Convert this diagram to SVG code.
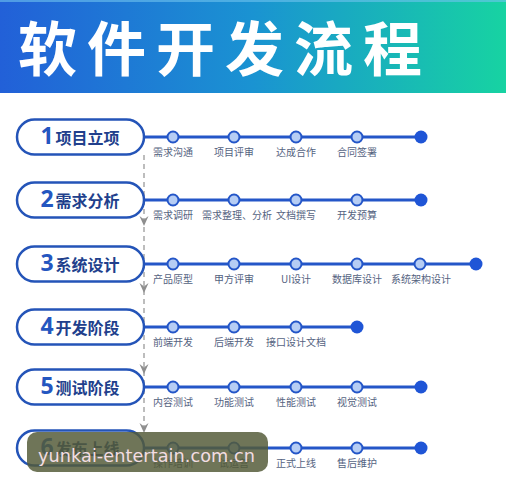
<svg xmlns="http://www.w3.org/2000/svg" width="506" height="500" viewBox="0 0 506 500">
<defs>
<linearGradient id="hdr" x1="0" y1="0" x2="1" y2="0">
<stop offset="0" stop-color="#2260d8"/>
<stop offset="0.5" stop-color="#1a93d2"/>
<stop offset="1" stop-color="#17d3a2"/>
</linearGradient>
<path id="arr" d="M-4.5,-10 L0,0 L4.5,-10 L0,-6.5 Z"/>
</defs>
<style>
.pill{fill:#fff;stroke:#2454b8;stroke-width:2.5}
.num{font-family:"Noto Sans","Liberation Sans",sans-serif;font-weight:bold;font-size:23px;fill:#2456c0}
.ttl{font-family:"Noto Sans CJK SC",sans-serif;font-weight:bold;font-size:16px;fill:#213f8c}
.ln{stroke:#2456c8;stroke-width:3;fill:none}
.dot{fill:#b6cdf4;stroke:#2456c8;stroke-width:2}
.end{fill:#1f55d6}
.lbl{font-family:"Noto Sans CJK SC",sans-serif;font-size:10px;fill:#55637f;text-anchor:middle}
.dash{stroke:#9a9a9a;stroke-width:1.3;stroke-dasharray:5 4;fill:none}
.ah{fill:#8e8e8e}
</style>
<rect width="506" height="500" fill="#fff"/>
<g id="header">
<rect x="0" y="0" width="506" height="93" fill="url(#hdr)"/>
<rect x="0" y="0" width="506" height="2" fill="#6fc3ee" opacity="0.6"/>
<text x="18" y="71" font-family="Noto Sans CJK SC,sans-serif" font-weight="bold" font-size="59" letter-spacing="10" fill="#fff">软件开发流程</text>
</g>
<g id="connectors">
<line class="dash" x1="144" y1="155" x2="144" y2="432"/>
<use href="#arr" class="ah" x="144" y="226"/>
<use href="#arr" class="ah" x="144" y="293"/>
<use href="#arr" class="ah" x="144" y="374"/>
<use href="#arr" class="ah" x="144" y="433"/>
<line class="ln" x1="143" y1="137" x2="421" y2="137"/>
<line class="ln" x1="143" y1="200" x2="421" y2="200"/>
<line class="ln" x1="143" y1="264" x2="476" y2="264"/>
<line class="ln" x1="143" y1="327" x2="357" y2="327"/>
<line class="ln" x1="143" y1="387" x2="421" y2="387"/>
<line class="ln" x1="143" y1="448" x2="421" y2="448"/>
</g>
<g id="stage1">
<rect class="pill" x="17" y="119.5" width="127" height="35" rx="17.5"/>
<text x="80" y="144" text-anchor="middle"><tspan class="num">1</tspan><tspan class="ttl" dx="2">项目立项</tspan></text>
</g>
<g id="stage2">
<rect class="pill" x="17" y="182.5" width="127" height="35" rx="17.5"/>
<text x="80" y="207" text-anchor="middle"><tspan class="num">2</tspan><tspan class="ttl" dx="2">需求分析</tspan></text>
</g>
<g id="stage3">
<rect class="pill" x="17" y="246.5" width="127" height="35" rx="17.5"/>
<text x="80" y="271" text-anchor="middle"><tspan class="num">3</tspan><tspan class="ttl" dx="2">系统设计</tspan></text>
</g>
<g id="stage4">
<rect class="pill" x="17" y="309.5" width="127" height="35" rx="17.5"/>
<text x="80" y="334" text-anchor="middle"><tspan class="num">4</tspan><tspan class="ttl" dx="2">开发阶段</tspan></text>
</g>
<g id="stage5">
<rect class="pill" x="17" y="369.5" width="127" height="35" rx="17.5"/>
<text x="80" y="394" text-anchor="middle"><tspan class="num">5</tspan><tspan class="ttl" dx="2">测试阶段</tspan></text>
</g>
<g id="stage6">
<rect class="pill" x="17" y="430.5" width="127" height="35" rx="17.5"/>
<text x="80" y="455" text-anchor="middle"><tspan class="num">6</tspan><tspan class="ttl" dx="2">发布上线</tspan></text>
</g>
<g id="steps1">
<circle class="dot" cx="173" cy="137" r="5.5"/><circle class="dot" cx="234" cy="137" r="5.5"/><circle class="dot" cx="296" cy="137" r="5.5"/><circle class="dot" cx="357" cy="137" r="5.5"/><circle class="end" cx="421" cy="137" r="6.5"/>
<text class="lbl" x="173" y="156">需求沟通</text><text class="lbl" x="234" y="156">项目评审</text><text class="lbl" x="296" y="156">达成合作</text><text class="lbl" x="357" y="156">合同签署</text>
</g>
<g id="steps2">
<circle class="dot" cx="173" cy="200" r="5.5"/><circle class="dot" cx="234" cy="200" r="5.5"/><circle class="dot" cx="296" cy="200" r="5.5"/><circle class="dot" cx="357" cy="200" r="5.5"/><circle class="end" cx="421" cy="200" r="6.5"/>
<text class="lbl" x="173" y="219">需求调研</text><text class="lbl" x="237" y="219">需求整理、分析</text><text class="lbl" x="296" y="219">文档撰写</text><text class="lbl" x="357" y="219">开发预算</text>
</g>
<g id="steps3">
<circle class="dot" cx="173" cy="264" r="5.5"/><circle class="dot" cx="234" cy="264" r="5.5"/><circle class="dot" cx="296" cy="264" r="5.5"/><circle class="dot" cx="357" cy="264" r="5.5"/><circle class="dot" cx="420" cy="264" r="5.5"/><circle class="end" cx="476" cy="264" r="6.5"/>
<text class="lbl" x="173" y="283">产品原型</text><text class="lbl" x="234" y="283">甲方评审</text><text class="lbl" x="296" y="283">UI设计</text><text class="lbl" x="357" y="283">数据库设计</text><text class="lbl" x="421" y="283">系统架构设计</text>
</g>
<g id="steps4">
<circle class="dot" cx="173" cy="327" r="5.5"/><circle class="dot" cx="234" cy="327" r="5.5"/><circle class="dot" cx="296" cy="327" r="5.5"/><circle class="end" cx="357" cy="327" r="6.5"/>
<text class="lbl" x="173" y="346">前端开发</text><text class="lbl" x="234" y="346">后端开发</text><text class="lbl" x="296" y="346">接口设计文档</text>
</g>
<g id="steps5">
<circle class="dot" cx="173" cy="387" r="5.5"/><circle class="dot" cx="234" cy="387" r="5.5"/><circle class="dot" cx="296" cy="387" r="5.5"/><circle class="dot" cx="357" cy="387" r="5.5"/><circle class="end" cx="421" cy="387" r="6.5"/>
<text class="lbl" x="173" y="406">内容测试</text><text class="lbl" x="234" y="406">功能测试</text><text class="lbl" x="296" y="406">性能测试</text><text class="lbl" x="357" y="406">视觉测试</text>
</g>
<g id="steps6">
<circle class="dot" cx="173" cy="448" r="5.5"/><circle class="dot" cx="234" cy="448" r="5.5"/><circle class="dot" cx="296" cy="448" r="5.5"/><circle class="dot" cx="357" cy="448" r="5.5"/><circle class="end" cx="421" cy="448" r="6.5"/>
<text class="lbl" x="173" y="467">操作培训</text><text class="lbl" x="234" y="467">试运营</text><text class="lbl" x="296" y="467">正式上线</text><text class="lbl" x="357" y="467">售后维护</text>
</g>
<g id="watermark">
<rect x="27" y="432" width="241" height="40" rx="10" fill="#545a38" opacity="0.84"/>
<text x="38" y="462" font-family="DejaVu Sans,sans-serif" font-size="17.7" fill="#f3dde3" textLength="217">yunkai-entertain.com.cn</text>
</g>
</svg>
